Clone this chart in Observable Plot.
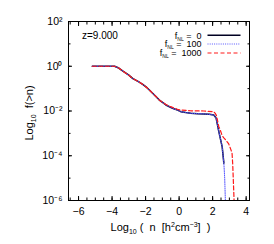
<!DOCTYPE html>
<html>
<head>
<meta charset="utf-8">
<script src="https://cdn.jsdelivr.net/npm/d3@7"></script>
<script src="https://cdn.jsdelivr.net/npm/@observablehq/plot@0.6"></script>
<style>
  html, body { margin: 0; padding: 0; background: white; }
</style>
</head>
<body>
<div id="chart"></div>
<script>
// ---- data (log10 values) ----
const logN0 = [-5.18, -4.5, -3.85, -3.6, -3.35, -3.0, -2.76, -2.45, -2.17, -1.9, -1.67, -1.4, -1.18, -0.95, -0.79, -0.55, -0.39, -0.1, 0.1, 0.4, 0.69, 1.1, 1.48, 1.8, 2.07, 2.21, 2.37, 2.57, 2.67];
const logF0 = [0, 0, 0, -0.08, -0.22, -0.4, -0.55, -0.68, -0.81, -0.97, -1.14, -1.34, -1.51, -1.64, -1.73, -1.82, -1.88, -1.96, -2.03, -2.07, -2.1, -2.12, -2.13, -2.15, -2.18, -2.32, -2.92, -3.6, -4.33];

const logN100 = [-5.18, -4.5, -3.85, -3.6, -3.35, -3.0, -2.76, -2.45, -2.17, -1.9, -1.67, -1.4, -1.18, -0.95, -0.79, -0.55, -0.39, -0.1, 0.1, 0.4, 0.69, 1.1, 1.48, 1.8, 2.07, 2.21, 2.37, 2.57, 2.67, 2.72, 2.76];
const logF100 = [0, 0, 0, -0.08, -0.22, -0.4, -0.55, -0.68, -0.81, -0.97, -1.14, -1.34, -1.51, -1.64, -1.73, -1.82, -1.88, -1.96, -2.03, -2.07, -2.1, -2.12, -2.13, -2.15, -2.18, -2.32, -2.92, -3.6, -4.33, -5.0, -6.0];

const logN1000 = [-5.18, -4.5, -3.85, -3.6, -3.35, -3.0, -2.76, -2.45, -2.17, -1.9, -1.67, -1.4, -1.18, -0.95, -0.79, -0.55, -0.39, -0.1, 0.1, 0.69, 1.48, 2.07, 2.17, 2.23, 2.37, 2.43, 2.57, 2.67, 2.82, 2.96, 3.1, 3.16, 3.2, 3.24, 3.28];
const logF1000 = [0, 0, 0, -0.08, -0.22, -0.4, -0.55, -0.68, -0.81, -0.97, -1.14, -1.34, -1.51, -1.63, -1.71, -1.79, -1.84, -1.92, -1.96, -1.99, -2.0, -2.03, -2.12, -2.21, -2.7, -2.8, -3.1, -3.2, -3.33, -3.47, -3.75, -3.9, -4.4, -5.2, -6.0];

const seriesNames = ["0", "100", "1000"];
const seriesColors = ["#000022", "#5555ff", "#ff1a1a"];
const seriesWidths = [1.5, 1, 1.2];
const seriesDash = ["none", "1,1.2", "4,2.5"];

const xMajor = [-6, -4, -2, 0, 2, 4];
const xMinor = [-6.5, -6, -5.5, -5, -4.5, -4, -3.5, -3, -2.5, -2, -1.5, -1, -0.5, 0, 0.5, 1, 1.5, 2, 2.5, 3, 3.5, 4];
const yMajor = [1e-6, 1e-4, 1e-2, 1, 1e2];
const yMinor = [1e-6, 1e-5, 1e-4, 1e-3, 1e-2, 1e-1, 1, 1e1, 1e2];
const zLabel = "z=9.000";

const toRows = (xs, ys) => xs.map((x, i) => ({x, y: 10 ** ys[i]}));
const series = [toRows(logN0, logF0), toRows(logN100, logF100), toRows(logN1000, logF1000)];

const sup = {"0":"⁰","1":"¹","2":"²","3":"³","4":"⁴","5":"⁵","6":"⁶","7":"⁷","8":"⁸","9":"⁹","-":"⁻"};
const pow10 = d => "10" + String(Math.round(Math.log10(d))).split("").map(c => sup[c]).join("");

const FONT = "'Liberation Sans', Arial, Helvetica, sans-serif";
const NB = "\u00A0";

const chart = Plot.plot({
  width: 274,
  height: 244,
  marginLeft: 68,
  marginRight: 25,
  marginTop: 21,
  marginBottom: 44,
  style: {fontFamily: FONT, fontSize: "10px", background: "white", color: "black", overflow: "visible"},
  x: {domain: [-6.6, 4.2]},
  y: {type: "log", domain: [1e-6, 1e2]},
  marks: [
    // inward ticks on all four sides
    Plot.axisX(xMinor, {anchor: "bottom", tickSize: -2.5, tickFormat: () => "", label: null}),
    Plot.axisX(xMajor, {anchor: "bottom", tickSize: -4, tickFormat: () => "", label: null}),
    Plot.axisX(xMinor, {anchor: "top", tickSize: -2.5, tickFormat: () => "", label: null}),
    Plot.axisX(xMajor, {anchor: "top", tickSize: -4, tickFormat: () => "", label: null}),
    Plot.axisY(yMinor, {anchor: "left", tickSize: -2.5, tickFormat: () => "", label: null}),
    Plot.axisY(yMajor, {anchor: "left", tickSize: -4, tickFormat: () => "", label: null}),
    Plot.axisY(yMinor, {anchor: "right", tickSize: -2.5, tickFormat: () => "", label: null}),
    Plot.axisY(yMajor, {anchor: "right", tickSize: -4, tickFormat: () => "", label: null}),
    // tick labels
    Plot.axisX(xMajor, {anchor: "bottom", tickSize: 0, tickPadding: 7, label: null, fontSize: 10.5}),
    Plot.axisY(yMajor, {anchor: "left", tickSize: 0, tickPadding: 6, tickFormat: pow10, label: null, fontSize: 10.5}),
    // curves
    ...series.map((s, i) => Plot.line(s, {x: "x", y: "y", stroke: seriesColors[i], strokeWidth: seriesWidths[i], strokeDasharray: seriesDash[i], clip: true})),
    Plot.frame({stroke: "black", strokeWidth: 1})
  ]
});

document.getElementById("chart").appendChild(chart);

// ---- text annotations: titles, z label, legend ----
const svg = d3.select(chart);
const g = svg.append("g").attr("font-family", FONT).attr("fill", "black").attr("text-anchor", "start");

// x title
const xt = g.append("text").attr("x", 160.5).attr("y", 231).attr("text-anchor", "middle").attr("font-size", 11);
xt.append("tspan").text("Log");
xt.append("tspan").attr("font-size", 7).attr("dy", 2.5).text("10");
xt.append("tspan").attr("dy", -2.5).text(NB + "(" + NB + NB + "n" + NB + NB + "[h");
xt.append("tspan").attr("font-size", 7).attr("dy", -4).text("2");
xt.append("tspan").attr("dy", 4).text("cm");
xt.append("tspan").attr("font-size", 7).attr("dy", -4).text("−3");
xt.append("tspan").attr("dy", 4).text("]" + NB + NB + ")");

// y title
const yt = g.append("text").attr("transform", "translate(33,113) rotate(-90)").attr("text-anchor", "middle").attr("font-size", 11);
yt.append("tspan").text("Log");
yt.append("tspan").attr("font-size", 7).attr("dy", 2.5).text("10");
yt.append("tspan").attr("dy", -2.5).text(NB + NB + "f(>n)");

// z label
g.append("text").attr("x", 82).attr("y", 38.5).attr("text-anchor", "start").attr("font-size", 10).text(zLabel);

// legend
const rowY = [35.3, 44, 53];
seriesNames.forEach((name, i) => {
  const t = g.append("text").attr("x", 201.5).attr("y", rowY[i] + 3.3).attr("text-anchor", "end").attr("font-size", 9);
  t.append("tspan").text("f");
  t.append("tspan").attr("font-size", 5).attr("dy", 2).text("NL");
  t.append("tspan").attr("dy", -2).text(NB + "=" + NB + NB + name);
  g.append("line").attr("x1", 207.5).attr("x2", 240.5).attr("y1", rowY[i]).attr("y2", rowY[i])
    .attr("stroke", seriesColors[i]).attr("stroke-width", seriesWidths[i])
    .attr("stroke-dasharray", seriesDash[i] === "none" ? null : seriesDash[i]);
});
</script>
</body>
</html>
